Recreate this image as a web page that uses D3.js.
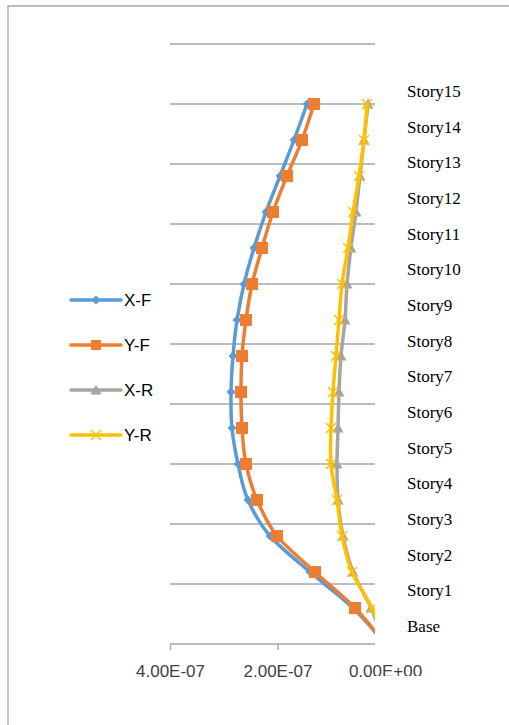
<!DOCTYPE html>
<html><head><meta charset="utf-8">
<script src="https://cdn.jsdelivr.net/npm/d3@7"></script>
<style>html,body{margin:0;padding:0;background:#fff;}</style>
</head><body>
<svg id="c" width="509" height="725"></svg>
<script>
// Story heights (m) and labels
const heights = [0,3,6,9,12,15,18,21,24,27,30,33,36,39,42,45];
const storyLabels = ["Story15","Story14","Story13","Story12","Story11","Story10","Story9","Story8","Story7","Story6","Story5","Story4","Story3","Story2","Story1","Base"];
const seriesNames = ["X-F","Y-F","X-R","Y-R"];
// values from Base to Story15
const xF = [0,5.95e-8,1.395e-7,2.140e-7,2.549e-7,2.735e-7,2.847e-7,2.865e-7,2.828e-7,2.753e-7,2.623e-7,2.437e-7,2.214e-7,1.953e-7,1.693e-7,1.451e-7];
const yF = [0,5.58e-8,1.302e-7,2.009e-7,2.381e-7,2.586e-7,2.660e-7,2.679e-7,2.660e-7,2.586e-7,2.474e-7,2.288e-7,2.084e-7,1.823e-7,1.544e-7,1.321e-7];
const xR = [0,2.60e-8,5.95e-8,7.81e-8,8.74e-8,8.93e-8,8.74e-8,8.56e-8,8.19e-8,7.44e-8,7.07e-8,6.33e-8,5.40e-8,4.65e-8,3.91e-8,3.16e-8];
const yR = [0,2.42e-8,6.14e-8,8.00e-8,8.93e-8,1.005e-7,1.005e-7,9.67e-8,9.12e-8,8.56e-8,8.00e-8,6.88e-8,5.95e-8,4.84e-8,3.91e-8,3.35e-8];
const xTicks = [4e-7, 2e-7, 0];
const xTickLabels = ["4.00E-07","2.00E-07","0.00E+00"];
const colors = ["#5B9BD5","#ED7D31","#A5A5A5","#FFC000"];

const sansFont = "'Liberation Sans', Arial, sans-serif";
const svg = d3.select("#c");
// outer chart frame (partially cropped)
svg.append("path").attr("d","M8,725 V6 H509").attr("fill","none").attr("stroke","#a6a6a6").attr("stroke-width",1.3);

const x = d3.scaleLinear().domain([4e-7, 0]).range([170, 385]);
const y = d3.scaleLinear().domain([0, 50]).range([644, 44]);
const clipRight = 375;

svg.append("clipPath").attr("id","pc").append("rect")
  .attr("x",160).attr("y",30).attr("width",clipRight-160).attr("height",630);

// gridlines
svg.append("g").selectAll("line").data(d3.range(5,51,5)).join("line")
  .attr("x1",170).attr("x2",clipRight).attr("y1",d=>y(d)).attr("y2",d=>y(d))
  .attr("stroke","#a6a6a6").attr("stroke-width",1.4);

// x axis
const ax = svg.append("g").attr("transform",`translate(0,${y(0)})`)
  .call(d3.axisBottom(x).tickValues(xTicks).tickSize(6).tickFormat((d,i)=>xTickLabels[i]));
ax.select(".domain").remove();
ax.append("line").attr("x1",170).attr("x2",clipRight).attr("stroke","#a6a6a6").attr("stroke-width",1.4);
ax.selectAll(".tick line").attr("stroke","#a6a6a6").attr("stroke-width",1.4)
  .attr("display",d=>x(d)>clipRight?"none":null);
ax.selectAll(".tick text").attr("y",21).attr("dy","0.71em")
  .attr("font-family",sansFont).attr("font-size",17).attr("fill","#404040");
// covering box edge that hides the lower part of the last tick label
svg.append("rect").attr("x",373).attr("y",676).attr("width",136).attr("height",20).attr("fill","#fff");

const data = [xF,yF,xR,yR];
const plot = svg.append("g").attr("clip-path","url(#pc)");
const line = d3.line().x(d=>x(d[0])).y(d=>y(d[1])).curve(d3.curveCardinal.tension(0));

function marker(g, k, cx, cy, s){
  if(k===0){
    g.append("path").attr("d",`M${cx-4.5},${cy} L${cx},${cy-4.5} L${cx+4.5},${cy} L${cx},${cy+4.5}Z`).attr("fill",colors[0]);
  } else if(k===1){
    g.append("rect").attr("x",cx-s/2).attr("y",cy-s/2).attr("width",s).attr("height",s).attr("fill",colors[1]);
  } else if(k===2){
    g.append("path").attr("d",`M${cx},${cy-5.5} L${cx+5.5},${cy+4.5} L${cx-5.5},${cy+4.5}Z`).attr("fill",colors[2]);
  } else {
    g.append("path").attr("d",`M${cx-5},${cy-5} L${cx+5},${cy+5} M${cx+5},${cy-5} L${cx-5},${cy+5}`).attr("stroke",colors[3]).attr("stroke-width",1.4);
  }
}

data.forEach((vals,k)=>{
  const pts = vals.map((v,i)=>[v,heights[i]]);
  const g = plot.append("g");
  g.append("path").attr("d",line(pts)).attr("fill","none").attr("stroke",colors[k])
    .attr("stroke-width",3.5).attr("stroke-linecap","round").attr("stroke-linejoin","round");
  pts.slice(1).forEach(p=>marker(g,k,x(p[0]),y(p[1]),12));
});

// story labels text box
const ly = d3.scalePoint().domain(storyLabels).range([91,626]);
svg.append("g").selectAll("text").data(storyLabels).join("text")
  .attr("x",407).attr("y",d=>ly(d)).attr("dy","0.35em")
  .attr("font-family","'Liberation Serif','Times New Roman',serif").attr("font-size",17).attr("fill","#000")
  .text(d=>d);

// legend
const leg = svg.append("g");
const legY = d3.scalePoint().domain(seriesNames).range([300,435]);
seriesNames.forEach((n,k)=>{
  const yy = legY(n);
  const gg = leg.append("g");
  gg.append("line").attr("x1",71).attr("x2",121).attr("y1",yy).attr("y2",yy)
    .attr("stroke",colors[k]).attr("stroke-width",3.5).attr("stroke-linecap","round");
  marker(gg,k,96,yy,10);
  gg.append("text").attr("x",124).attr("y",yy).attr("dy","0.35em")
    .attr("font-family",sansFont).attr("font-size",17).attr("fill","#000").text(n);
});
</script>
</body></html>
